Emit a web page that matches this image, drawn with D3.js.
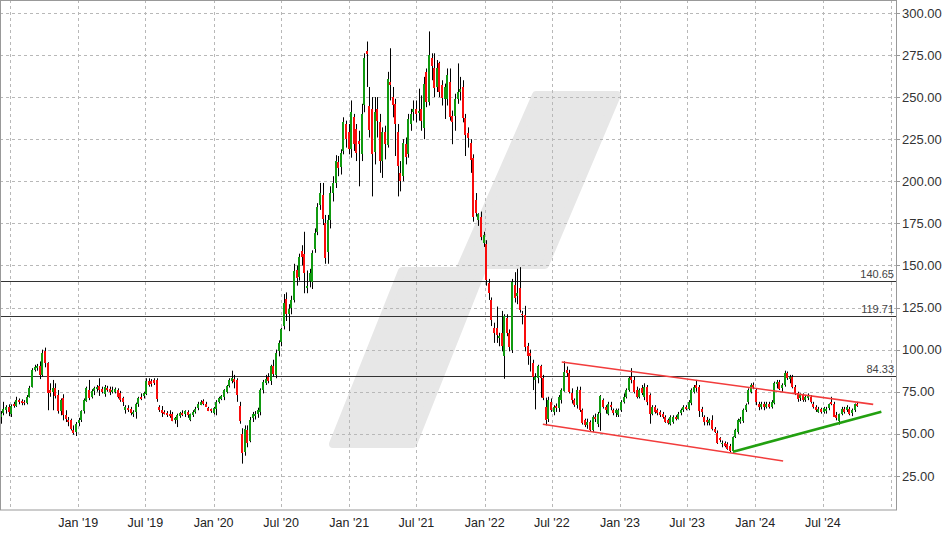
<!DOCTYPE html>
<html><head><meta charset="utf-8">
<script src="https://cdn.jsdelivr.net/npm/d3@7"></script>
<style>body{margin:0;background:#fff}svg{display:block}text{font-family:"Liberation Sans",Arial,sans-serif}</style>
</head><body><svg id="c" width="949" height="538"></svg>
<script>
// ---- data (weekly candles, first week starting 2018-06-04) ----
const firstWeek = "2018-06-04";
const open = [
60,62,64,66,61.5,67.5,66.5,70,69.5,69,68.5,72,78,88,89,90.5,85,99,92,76,
74.5,77,73,63.5,71,61,58.5,58,52.5,51,56,58,63.5,70,76,72,75,77,78.5,76.5,
74,77,76.5,75,75,76,74,71,64.5,65.5,65,62,62.5,67.5,72,72,74,81.5,81.5,82,
82,66,64,63,62.5,62,62,58.5,58,61,62.5,61.5,63,58,61,63,65,67.5,69.5,68,
65.5,64.5,62.5,65,69,71,72,75,78.5,81,82.5,82,66.5,50,39,52.5,46,59,61,61.5,
63,76,80,84,81,90.5,85,99.5,104.5,114,130,121,124.5,130,147.5,143,158.5,157,136.5,140.5,
140,160,170,186,192,175,158,177,193,199,211.5,208,218,234,229,219,238,231,224,216,
245,277.5,245,243,217.5,243,235,212,229,222,259,250,246,229,205,203,222,216,234,241,
243,241,243,232,265,247,273,267,256,270,257,249,249,259,239,239,249,253,256,237.5,
228.5,222.5,214,189,177,179,163,163,139.5,129.5,112.8,112.8,107,109.8,96,119,110,99.8,138.4,131.5,
136.4,121,120.7,102,97.9,92.3,82,83,90,83,66,59,69,63,66.5,65.5,70,76,88,86,
74,70,67,76,64,58,55,57,52,60,56,62.8,70,66,62,67,64,62,61,64,
69,72,76,84,82,76,72,77,72,78,73,62,66,64,63,62,60,58,56,57,
60,59,62,64,66,65,68,75,79,78,65,60,58,56,58,53,50.5,47.5,44,44.4,
44,43,40,48.3,51.3,57,58,64,68.7,75,79,76,68,66,68,66,67.5,66,68,80,
81,77,79,86,83,84,78,74,71,73,70,71.5,72,68,66,63.5,64.5,63,64,65,
69,68,61,58,62,65,64,65,62,64,68];
const high = [
63.5,69,67,67.5,67.5,69,72,71,70.5,70,73,78.5,89,91,91.5,93,100,101.2,92.5,80,
82,80,76,71,73.5,64,60,59,55,57,59.5,64,71,78,82,76.5,78,79,83,78,
79,78.5,78,78,77.5,77,75.5,72,67,67,66,64,68.5,72,74,75,83,83,82.5,83,
83,67,66.5,64,63.5,64,63,60,62,63,64,64,64,62,64,66,69,70,70.5,69,
66,65,66,70,72,73,76.5,79,83,87.5,85,83,69,53.3,55,55,60,63,63.5,65.5,
77,82,85,86,91,94,100,105.5,113,133,134,127,132,151,150,157,162,170,147,148,
159,172,187,199,199,180,180,197,203,215.5,215,219,238,236,234,248,240,234,230,246,
276,283,256,250,250,250,240,232,233,265,279,256,249,234,212,225,226,240,243,248,
248,255,251,262,267,289,276,276,272,271,260,258,267,267,242,252,270,262,260,240,
232,225,216,193,181,182,170,165,142,131,116,125.6,110,123,121,121,112,142,146,148,
149,123,126,104,100,94,86,91,91,85,71.5,72,71,67,68,73,77,93,90,88,
77,71,78,78,65,59,59,58,61,62,63,73,71,67,69,69,65,65,65,70,
74,77,84,89,84,78,77,79,80,79,74,67,67,65,64,63,61,59,61,61,
61,63,65,67,67,70,77,79,82,79,66,61,60,59,61,54,52,48,46,45.5,
45,44,48.5,53,59,60,65,68,77,80,80.5,77,69,69,69,69,69,70,81,82,
82,80,87.5,87,85,85,79,75,74,74,73,74,73,69,67,66,65.5,66,66,68,
72,69,63,62,66,66,67,66,65,68,69];
const low = [
56,61,62,60.5,60,65.5,66,67.5,67,67,67.5,71.5,77.5,87,87.5,82.5,84,89.5,64,72,
64,71,62,61,58,57,54.5,52,49.5,48.7,54.5,57,62,69,70,71,73,75,72.5,74,
72,75,73,74,74,71,69,66.5,62,63,61,60,59,66,70,71,73,78,78,79,
69,63,60,61.5,60,59.5,57.5,56,54,59.5,60.5,60,59.5,57.5,60,62,64,67,67,66,
63.5,62.5,61.5,61,68,70,70,74,77.5,80,77,69,56,32.3,37,42,45,57,58.5,59.5,
61,74,79,80,79,84,83,96,102,112,117,111,121,128,138,141,150,133.5,133.5,137,
136,157.5,168,183,174,151,151,172,188,196,203,204,216,220,216,214,218,212,197,212,
241,256,226,191,210,226,205,202,213,220,248,238,215,191,194,200,210,214,230,236,
235,236,230,225,244,245,260,250,253,250,245,237,245,236,222,230,246,248,235,215,
220,205,176,179,173.5,165,161,138,129.5,114,104,104,102,99,82.7,108,99,98,128,127,
122,115,99,91,87,76,64.5,80,71.5,70,55,57,63,61,63,63,68,75,84,74,
68,66,65,63,55.5,54,53,51.5,51,57,54,51.8,65,62,61,64,61,60,60,63,
68,71,75,80,74,71,71,73,70,67,56,61,62,61,60,59,56.5,55.5,55,56,
58,58.5,61,63,64,64,67,74,75,60,60,55,55,55,52,50.5,44,45,42,42,
40.5,39,38.85,47.5,50,56,56.5,63,67.5,74,76.5,67,64,64.5,64,65,65,65,67.5,77,
76,75,78,82,80,77,73,69,69.5,69,69,70,68,65,63,62.5,62,62,62,64,
67,60,58,55.5,61,62,63,61,60.5,63,66];
const close = [
62,64.5,66,63,66.5,66.5,70,69,68.5,68.5,72,77.5,88,89.5,90,85,98,92,74,74.5,
77,72.5,63.5,70,61,58.5,57.5,52.5,50.5,56,58,63.5,70,77.5,71.5,75.5,77,78,76,75,
78,76,75,76,76.5,72,70,68.5,66,64.5,62.5,63,67.5,71,71,74,81.5,79,80,80.5,
70.5,64.5,62.5,62,61.5,61,58,59.5,61,62.5,61.5,63.5,61,61.5,63,65,67.5,69,68,66.5,
64,63.5,65.5,69,71.5,72.5,76,78.5,82,83,80.5,73,57.7,39,52.6,44.5,58.5,61.5,62,64,
76,80.5,82.5,81.5,90,86,98,104,112,127.5,121,124,129.5,147,142.5,155,155,146,137.5,145.5,
157.5,169.5,185,193,178,154.5,177,193,199,212,208,216.5,235,225,219,241,222,217,222,240,
273,276,230.5,216.5,241,236,212,229,222,261,257,245,234,209,200,222.5,214,237,240,243,
240,242,236,258,247,275,268,255,267,253,249,256,263,238,235.5,249,253,255,237.5,227.5,
225.5,212.5,179,181.5,180.5,167,168,141.5,133.5,117.7,109.8,108.8,108,101.8,119.7,110,101.8,140.4,130.5,133.5,
123.5,120.7,101.8,96,95.9,84,83.5,90,83,71,58.5,70,64.5,66,65.5,72,76,87,86,75,
70,67,76,64,56,55,57,52,60,59,62,72.7,66,64,68,66,62,64,64,69,
72,76,83,82,75,72,76,74,78,69,61.5,66,63,62,61,60,57,56,60,60,
59,62,64,66,65,69,76,78,77,64,63,57,57,58,52.5,51,44.5,46.5,44.5,42.5,
41,40,48.3,52.3,58.2,59,64.4,67,76,79,78,68.7,66,68,66,68,66,69,80,81,
77,79,86,83,84,78,74,70.5,73,70,72,73,69,66,64,65,63,65.5,65,67.5,
68,60.5,59,62,65,63,66,62,64,67.5,67];
const yTicks = [25,50,75,100,125,150,175,200,225,250,275,300];
const levels = [140.65,119.71,84.33];
const gridDates = ["2018-07-01","2019-01-01","2019-07-01","2020-01-01","2020-07-01","2021-01-01","2021-07-01","2022-01-01","2022-07-01","2023-01-01","2023-07-01","2024-01-01","2024-07-01","2025-01-01"];
const xTickDates = ["2019-01-01","2019-07-01","2020-01-01","2020-07-01","2021-01-01","2021-07-01","2022-01-01","2022-07-01","2023-01-01","2023-07-01","2024-01-01","2024-07-01"];
const xTickLabels = ["Jan '19","Jul '19","Jan '20","Jul '20","Jan '21","Jul '21","Jan '22","Jul '22","Jan '23","Jul '23","Jan '24","Jul '24"];
const channelTop = [["2022-07-28",92.7],["2024-11-14",67.5]];
const channelBottom = [["2022-06-07",55.65],["2024-03-16",33.9]];
const supportLine = [["2023-11-02",39.4],["2024-12-06",63.1]];

// ---- layout ----
const plotR = 896, plotB = 510;
const parse = d3.timeParse("%Y-%m-%d");
const svg = d3.select("#c");
const x = d3.scaleTime().domain([parse("2019-01-01"), parse("2025-01-01")]).range([78.3, 891]);
const y = d3.scaleLinear().domain([0, 300]).range([518, 12.9]);

svg.append("defs").append("clipPath").attr("id","clip")
  .append("rect").attr("x",0).attr("y",0).attr("width",plotR).attr("height",plotB);

// watermark (decorative logo)
const wm = [[536,95],[617,95],[545,265],[484,265],[413,444],[333,444],[402,271],[459,271]];
svg.append("path").attr("d", "M" + wm.map(p => p.join(",")).join("L") + "Z")
  .attr("fill","#e7e7e7").attr("stroke","#e7e7e7").attr("stroke-width",8).attr("stroke-linejoin","round");

const g = svg.append("g").attr("clip-path","url(#clip)");

// grid
g.selectAll(".hg").data(yTicks).join("line")
  .attr("x1",0).attr("x2",plotR).attr("y1",d=>Math.round(y(d))+0.5).attr("y2",d=>Math.round(y(d))+0.5)
  .attr("stroke","#b8b8b8").attr("stroke-dasharray","3,3");
g.selectAll(".vg").data(gridDates).join("line")
  .attr("x1",d=>Math.round(x(parse(d)))+0.5).attr("x2",d=>Math.round(x(parse(d)))+0.5).attr("y1",0).attr("y2",plotB)
  .attr("stroke","#b8b8b8").attr("stroke-dasharray","3,3");

// horizontal levels
g.selectAll(".lv").data(levels).join("line")
  .attr("x1",0).attr("x2",plotR).attr("y1",d=>Math.round(y(d))+0.5).attr("y2",d=>Math.round(y(d))+0.5)
  .attr("stroke","#333").attr("stroke-width",1);
svg.selectAll(".lvt").data(levels).join("text")
  .attr("x",894).attr("y",d=>y(d)-3).attr("text-anchor","end")
  .attr("font-size",11).attr("fill","#444").text(d=>d.toFixed(2));

// candles
const start = parse(firstWeek);
const candles = close.map((c,i)=>({
  date: d3.timeDay.offset(start, i*7 + 2), o: open[i], h: high[i], l: low[i], c: c
}));
const cg = g.append("g");
cg.selectAll(".wick").data(candles).join("line")
  .attr("x1",d=>Math.round(x(d.date))+0.5).attr("x2",d=>Math.round(x(d.date))+0.5)
  .attr("y1",d=>y(d.h)).attr("y2",d=>y(d.l)).attr("stroke","#000").attr("stroke-width",1);
cg.selectAll(".body").data(candles).join("rect")
  .attr("x",d=>Math.round(x(d.date))-1).attr("width",2)
  .attr("y",d=>Math.round(y(Math.max(d.o,d.c))))
  .attr("height",d=>Math.max(1, Math.round(Math.abs(y(d.o)-y(d.c)))))
  .attr("fill",d=>d.c>=d.o ? "#109a10" : "#f80c0c")
  .attr("shape-rendering","crispEdges");

// trend lines
const line = d3.line().x(d=>x(parse(d[0]))).y(d=>y(d[1]));
g.append("path").attr("d",line(channelTop)).attr("fill","none").attr("stroke","#f23c3c").attr("stroke-width",1.6);
g.append("path").attr("d",line(channelBottom)).attr("fill","none").attr("stroke","#f23c3c").attr("stroke-width",1.6);
g.append("path").attr("d",line(supportLine)).attr("fill","none").attr("stroke","#22a010").attr("stroke-width",2.6);

// frame
svg.append("rect").attr("x",0.5).attr("y",0.5).attr("width",plotR).attr("height",plotB-0.5)
  .attr("fill","none").attr("stroke","#999");

// y axis labels
svg.selectAll(".yt").data(yTicks).join("line")
  .attr("x1",plotR+1).attr("x2",plotR+4).attr("y1",d=>Math.round(y(d))+0.5).attr("y2",d=>Math.round(y(d))+0.5)
  .attr("stroke","#999");
svg.selectAll(".yl").data(yTicks).join("text")
  .attr("x",902).attr("y",d=>y(d)).attr("dy","0.36em")
  .attr("font-size",13).attr("fill","#333").text(d=>d.toFixed(2));

// x axis labels
svg.selectAll(".xl").data(xTickDates).join("text")
  .attr("x",d=>x(parse(d))).attr("y",527).attr("text-anchor","middle")
  .attr("font-size",12.5).attr("fill","#222").text((d,i)=>xTickLabels[i]);
</script></body></html>
